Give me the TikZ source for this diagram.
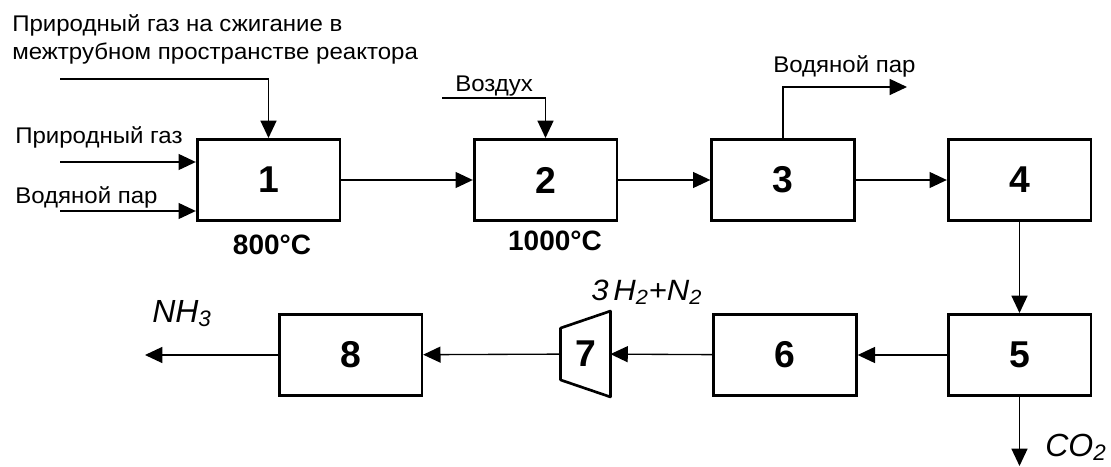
\documentclass[tikz,border=0pt]{standalone}
\usepackage{fontspec}
\setmainfont{Liberation Sans}
\newfontfamily\lblfont[FakeStretch=1.06]{Liberation Sans}
\usetikzlibrary{arrows.meta}

\begin{document}
\begin{tikzpicture}[x=0.75pt, y=-0.75pt,
    unit/.style={draw, line width=2pt, minimum width=107pt, minimum height=61pt,
        font=\bfseries\fontsize{28}{28}\selectfont},
    flow/.style={line width=1pt, -{Triangle[length=13pt, width=12pt]}},
    lbl/.style={anchor=base west, inner sep=0, font=\lblfont\fontsize{17}{17}\selectfont},
    chem/.style={anchor=base west, inner sep=0, font=\itshape\fontsize{24}{24}\selectfont},
    temp/.style={inner sep=0, font=\bfseries\fontsize{21}{21}\selectfont}]

    \useasboundingbox (0, 0) rectangle (1111, 467);

    % Units, upper row
    \node[unit] (u1) at (268.5, 180) {1};
    \node[unit] (u2) at (545.5, 180) {2};
    \node[unit] (u3) at (783, 180) {3};
    \node[unit] (u4) at (1019.5, 180) {4};

    % Units, lower row
    \node[unit] (u5) at (1019.5, 355) {5};
    \node[unit] (u6) at (785, 355) {6};
    \node[unit] (u8) at (350.5, 355) {8};

    % Compressor
    \node[minimum width=37pt, minimum height=64pt, inner sep=0,
        font=\bfseries\fontsize{28}{28}\selectfont] (u7) at (585.5, 354) {7};
    \draw[line width=2pt, line join=round] (u7.north east) -- (u7.south east)
        -- ([yshift=12.75pt]u7.south west) -- ([yshift=-12.75pt]u7.north west) -- cycle;

    % Free ends
    \coordinate (gasin) at (60, 79);
    \coordinate (natin) at (60, 162);
    \coordinate (steamin) at (60, 211);
    \coordinate (airin) at (442, 98);
    \coordinate (steamout) at (907, 87);
    \coordinate (nh3out) at (145, 355);
    \coordinate (co2out) at (1019.5, 466);

    % Labels
    \node[lbl] (gasburn) at (12, 32) {Природный газ на сжигание в};
    \node[lbl] (gasburnb) at (12, 60) {межтрубном пространстве реактора};
    \node[lbl] (natgas) at (15, 143) {Природный газ};
    \node[lbl] (steam) at (15, 203) {Водяной пар};
    \node[lbl] (air) at (455, 92) {Воздух};
    \node[lbl] (steamb) at (773, 73) {Водяной пар};
    \node[temp] (t1) at (272, 245) {800°C};
    \node[temp] (t2) at (555, 241) {1000°C};
    \node[chem] (nh3) at (152, 322) {NH\textsubscript{3}};
    \node[chem, font=\lblfont\itshape\fontsize{22}{22}\selectfont] (syngas) at (591, 300)
        {3\,H\textsubscript{2}+N\textsubscript{2}};
    \node[chem] (co2) at (1045, 456) {CO\textsubscript{2}};

    % Streams
    \draw[flow] (gasin) -| (u1.north);
    \draw[flow] (natin) -- (natin -| u1.west);
    \draw[flow] (steamin) -- (steamin -| u1.west);
    \draw[flow] (airin) -| (u2.north);
    \draw[flow] (u3.north) |- (steamout);
    \draw[flow] (u1) -- (u2);
    \draw[flow] (u2) -- (u3);
    \draw[flow] (u3) -- (u4);
    \draw[flow] (u4) -- (u5);
    \draw[flow] (u5) -- (u6);
    \draw[flow] (u6) -- (u7);
    \draw[flow] (u7) -- (u8);
    \draw[flow] (u8) -- (nh3out);
    \draw[flow] (u5) -- (co2out);

\end{tikzpicture}
\end{document}
